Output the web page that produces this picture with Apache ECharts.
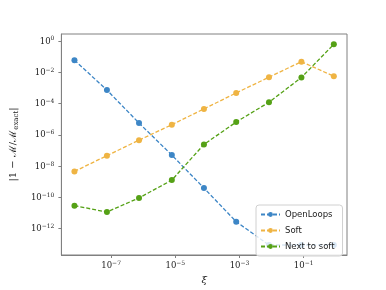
<!DOCTYPE html>
<html>
<head>
<meta charset="utf-8">
<script src="https://cdn.jsdelivr.net/npm/echarts@6/dist/echarts.min.js"></script>
<style>html,body{margin:0;padding:0;background:#fff}#c{width:386px;height:290px}</style>
</head>
<body>
<div id="c"></div>
<script>
const xiValues = [7.2e-9, 7.4e-8, 7.4e-7, 7.8e-6, 7.8e-5, 7.9e-4, 8.3e-3, 8.5e-2, 0.87];
const openLoops = [5.9e-2, 7.2e-4, 5.6e-6, 5.0e-8, 3.9e-10, 2.75e-12, 8.9e-14, 8.9e-14, 8.9e-14];
const soft = [4.5e-9, 4.6e-8, 4.5e-7, 4.4e-6, 4.5e-5, 4.7e-4, 4.8e-3, 4.7e-2, 5.5e-3];
const nextToSoft = [2.9e-11, 1.15e-11, 9.1e-11, 1.26e-9, 2.4e-7, 6.5e-6, 1.2e-4, 4.6e-3, 6.1e-1];
const seriesNames = ['OpenLoops', 'Soft', 'Next to soft'];
const xTickValues = [1e-7, 1e-5, 1e-3, 1e-1];
const yTickValues = [1e-12, 1e-10, 1e-8, 1e-6, 1e-4, 1e-2, 1e0];
const colors = ['#3d86c6', '#efb443', '#55a116'];

function pairs(ys) { return xiValues.map((x, i) => [x, ys[i]]); }
function powLabel(v) {
  const e = Math.round(Math.log10(v));
  const s = (e < 0 ? '\u2212' + (-e) : '' + e);
  return '{b|10}{s|' + s + '}';
}
const richLab = {
  b: { fontFamily: 'DejaVu Serif', fontSize: 8.5, color: '#222', verticalAlign: 'bottom' },
  s: { fontFamily: 'DejaVu Serif', fontSize: 6, color: '#222', verticalAlign: 'bottom', padding: [0, 0, 4, 0] }
};
const chart = echarts.init(document.getElementById('c'), null, { renderer: 'canvas' });
const mk = (name, ys, c) => ({
  name: name, type: 'line', data: pairs(ys),
  symbol: 'circle', symbolSize: 6,
  itemStyle: { color: c },
  lineStyle: { color: c, width: 1.3, type: [4, 2] },
  animation: false
});
chart.setOption({
  animation: false,
  grid: { left: 48, top: 34, right: 39, bottom: 32, show: true, borderColor: '#808080', borderWidth: 1 },
  xAxis: {
    type: 'log', logBase: 10,
    min: Math.pow(10, -8.55), max: Math.pow(10, 0.35),
    name: '\u03BE', nameLocation: 'middle', nameGap: 20,
    nameTextStyle: { fontFamily: 'DejaVu Serif', fontSize: 10, color: '#222', fontStyle: 'italic' },
    axisLine: { show: true, lineStyle: { color: '#808080' } },
    axisTick: { show: true, customValues: xTickValues, length: 3, lineStyle: { color: '#808080' } },
    axisLabel: { customValues: xTickValues, formatter: powLabel, rich: richLab, margin: 5 },
    splitLine: { show: false },
    minorTick: { show: false }
  },
  yAxis: {
    type: 'log', logBase: 10,
    min: Math.pow(10, -13.69), max: Math.pow(10, 0.443),
    name: '{n|\u007C1 \u2212 \u2133/\u2133}{sub|exact}{n|\u007C}', nameLocation: 'middle', nameGap: 36, nameRotate: 90,
    nameTextStyle: {
      rich: {
        n: { fontFamily: 'DejaVu Serif', fontSize: 10, color: '#222', verticalAlign: 'top' },
        sub: { fontFamily: 'DejaVu Serif', fontSize: 7, color: '#222', verticalAlign: 'top', padding: [5, 0, 0, 0] }
      }
    },
    axisLine: { show: true, lineStyle: { color: '#808080' } },
    axisTick: { show: true, customValues: yTickValues, length: 3, lineStyle: { color: '#808080' } },
    axisLabel: { customValues: yTickValues, formatter: powLabel, rich: richLab, margin: 7 },
    splitLine: { show: false },
    minorTick: { show: false }
  },
  legend: {
    orient: 'vertical', left: 256, top: 205,
    itemWidth: 19, itemHeight: 6, itemGap: 7,
    padding: [5, 8, 5, 4],
    backgroundColor: 'rgba(255,255,255,0.8)',
    borderColor: '#d0d0d0', borderWidth: 1, borderRadius: 3,
    textStyle: { fontFamily: 'DejaVu Sans', fontSize: 8.5, color: '#222' },
    data: seriesNames
  },
  series: [
    mk(seriesNames[0], openLoops, colors[0]),
    mk(seriesNames[1], soft, colors[1]),
    mk(seriesNames[2], nextToSoft, colors[2])
  ]
});
</script>
</body>
</html>
